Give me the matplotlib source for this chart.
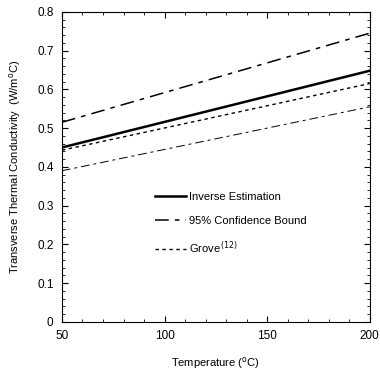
import numpy as np
import matplotlib.pyplot as plt
from matplotlib.ticker import MultipleLocator

plt.rcParams['font.family'] = ['Liberation Sans', 'DejaVu Sans']

# data
temp = [50, 200]
inverse = [0.450, 0.648]
upper = [0.515, 0.745]
lower = [0.390, 0.555]
grove = [0.443, 0.615]

yticks = [0, 0.1, 0.2, 0.3, 0.4, 0.5, 0.6, 0.7, 0.8]
ylabels = ['0', '0.1', '0.2', '0.3', '0.4', '0.5', '0.6', '0.7', '0.8']
xticks = [50, 100, 150, 200]

fig = plt.figure(figsize=(3.8, 3.7), dpi=100)
ax = fig.add_axes([0.163, 0.13, 0.81, 0.838])

ax.plot(temp, inverse, color='black', lw=1.8, label='Inverse Estimation')
ax.plot(temp, upper, color='black', lw=1.1, dashes=(9, 4, 3, 4), label='95% Confidence Bound')
ax.plot(temp, lower, color='black', lw=0.7, dashes=(9, 4, 3, 4))
ax.plot(temp, grove, color='black', lw=1.0, dashes=(2.5, 2.5), label='Grove$^{\\,(12)}$')

ax.set_xlim(50, 200)
ax.set_ylim(0, 0.8)
ax.set_xticks(xticks)
ax.set_yticks(yticks)
ax.set_yticklabels(ylabels)
ax.xaxis.set_minor_locator(MultipleLocator(10))
ax.yaxis.set_minor_locator(MultipleLocator(0.02))
ax.tick_params(which='both', direction='in', top=True, right=True, labelsize=8.5, pad=6)
ax.tick_params(which='major', length=4)
ax.tick_params(which='minor', length=2)

ax.set_xlabel('Temperature ($^{\\rm o}$C)', fontsize=8, labelpad=9)
ax.set_ylabel('Transverse Thermal Conductivity  (W/m$^{\\rm o}$C)', fontsize=8, labelpad=10)

ax.legend(loc='upper left', bbox_to_anchor=(0.27, 0.452), frameon=False, fontsize=8,
          handlelength=2.8, labelspacing=1.25, handletextpad=0.3)

fig.savefig('out.png', dpi=100)
